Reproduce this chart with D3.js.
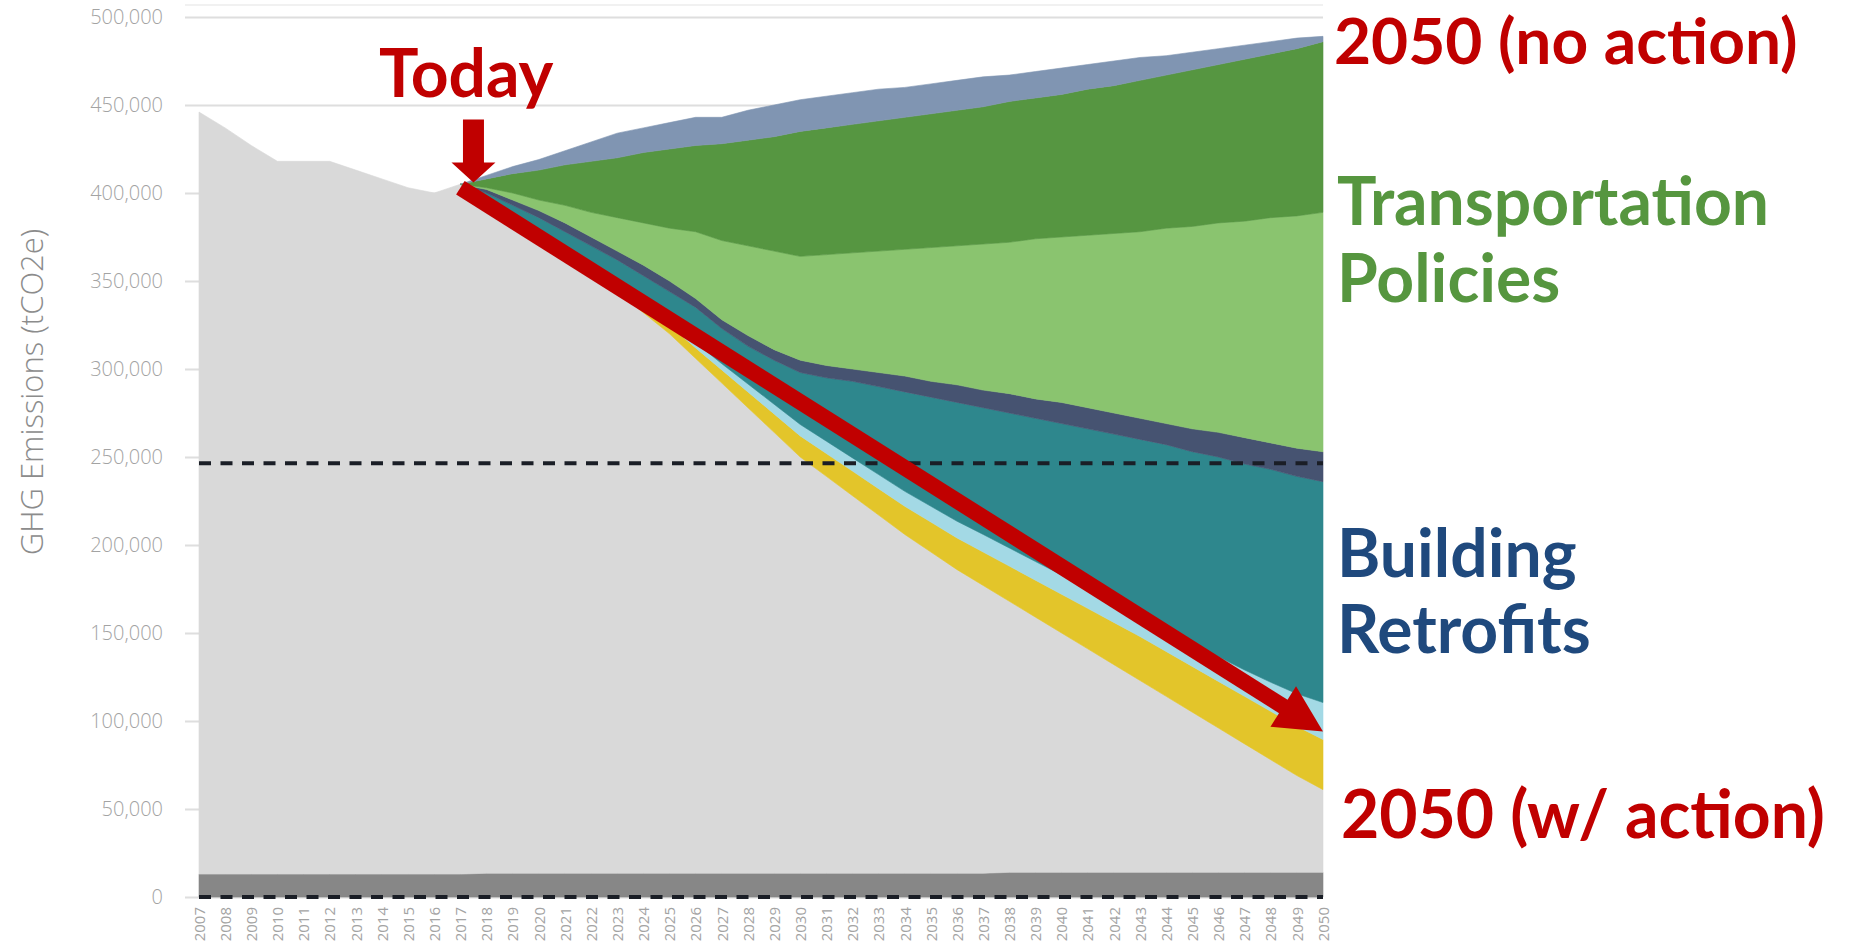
<!DOCTYPE html>
<html>
<head>
<meta charset="utf-8">
<script src="https://cdn.jsdelivr.net/npm/d3@7"></script>
<style>
  html, body { margin: 0; padding: 0; background: #fff; }
  svg { display: block; }
</style>
</head>
<body>
<div id="chart"></div>
<script>
(function() {
  var years = [2007, 2008, 2009, 2010, 2011, 2012, 2013, 2014, 2015, 2016, 2017,
    2018, 2019, 2020, 2021, 2022, 2023, 2024, 2025, 2026, 2027, 2028, 2029, 2030,
    2031, 2032, 2033, 2034, 2035, 2036, 2037, 2038, 2039, 2040, 2041, 2042, 2043,
    2044, 2045, 2046, 2047, 2048, 2049, 2050];

  // all series in thousand tCO2e, stacked from the bottom up
  var fixedBase = [13, 13, 13, 13, 13, 13, 13, 13, 13, 13, 13,
    13.5, 13.5, 13.5, 13.5, 13.5, 13.5, 13.5, 13.5, 13.5, 13.5, 13.5, 13.5, 13.5,
    13.5, 13.5, 13.5, 13.5, 13.5, 13.5, 13.5, 14, 14, 14, 14, 14, 14,
    14, 14, 14, 14, 14, 14, 14];
  var remaining = [433, 424, 414, 405, 405, 405, 400, 395, 390, 387, 392,
    382.5, 372.5, 362.5, 352.5, 341.5, 330.5, 318.5, 306.5, 292.5, 278.5, 264.5, 250.5, 236.5,
    225.5, 214.5, 203.5, 192.5, 182.5, 172.5, 163.5, 154, 145, 136, 127, 118, 109,
    100, 91, 82, 73, 64, 55, 47];
  var yellowWedge = [0, 0, 0, 0, 0, 0, 0, 0, 0, 0, 0,
    0.5, 1, 1.5, 2, 2.5, 3, 4, 5, 6, 7.5, 9, 10.5, 12,
    13, 14, 15, 16, 17, 18, 19, 20, 21, 22, 23, 24, 25,
    25.5, 26, 26.5, 27, 27.5, 28, 28.5];
  var lightBlueWedge = [0, 0, 0, 0, 0, 0, 0, 0, 0, 0, 0,
    0.3, 0.5, 0.8, 1, 1.3, 1.6, 2, 2.5, 3, 3.5, 4.5, 5.5, 6.5,
    7, 7.5, 8, 8.5, 9, 9.5, 10, 10.3, 10.6, 11, 11.3, 11.6, 12,
    12.5, 13, 14, 15, 16.5, 18.5, 21];
  var retrofits = [0, 0, 0, 0, 0, 0, 0, 0, 0, 0, 0,
    3.2, 5.5, 7.7, 9, 11.2, 13.4, 15, 16.5, 20, 20, 21.5, 25, 29.5,
    36, 43.5, 50, 56.5, 62, 67.5, 72, 76.7, 81.4, 86, 90.7, 95.4, 100,
    105, 109, 113.5, 117, 121, 123.5, 125.5];
  var slateWedge = [0, 0, 0, 0, 0, 0, 0, 0, 0, 0, 0,
    2, 3, 4, 5, 5, 5, 6, 6, 5, 5, 6, 6, 7,
    7, 7, 8, 9, 9, 10, 10, 11, 11, 12, 12, 12, 12,
    12, 13, 14, 15, 15, 16, 17];
  var transportLight = [0, 0, 0, 0, 0, 0, 0, 0, 0, 0, 0,
    1, 4, 6, 10, 14, 19, 24, 30, 38, 45, 51, 56, 59,
    63, 66, 69, 72, 76, 79, 83, 86, 91, 94, 98, 102, 106,
    111, 115, 119, 123, 128, 132, 136];
  var transportDark = [0, 0, 0, 0, 0, 0, 0, 0, 0, 0, 0,
    5, 11, 17, 23, 29, 34, 40, 45, 49, 55, 60, 65, 71,
    72, 73, 74, 75, 76, 77, 78, 80, 80, 81, 83, 84, 86,
    87, 89, 90, 92, 93, 95, 97];
  var topWedge = [0, 0, 0, 0, 0, 0, 0, 0, 0, 0, 0,
    2, 4, 6, 8, 11, 14, 14, 15, 16, 15, 17, 18, 18,
    18, 18, 18, 17, 17, 17, 17, 15, 15, 15, 14, 14, 13,
    11, 10, 9, 8, 7, 6, 3];

  var yTicks = [0, 50000, 100000, 150000, 200000, 250000, 300000, 350000, 400000, 450000, 500000];
  var targetLevel = 246500;

  var series = [
    { key: "fixedBase", values: fixedBase, color: "#878787" },
    { key: "remaining", values: remaining, color: "#d9d9d9" },
    { key: "yellowWedge", values: yellowWedge, color: "#e3c52a" },
    { key: "lightBlueWedge", values: lightBlueWedge, color: "#a3d9e5" },
    { key: "retrofits", values: retrofits, color: "#2e878d" },
    { key: "slateWedge", values: slateWedge, color: "#465371" },
    { key: "transportLight", values: transportLight, color: "#8ac46f" },
    { key: "transportDark", values: transportDark, color: "#569641" },
    { key: "topWedge", values: topWedge, color: "#8095b2" }
  ];

  var table = years.map(function(yr, i) {
    var row = { year: yr };
    series.forEach(function(s) { row[s.key] = s.values[i] * 1000; });
    return row;
  });

  var stacked = d3.stack().keys(series.map(function(s) { return s.key; }))(table);

  var svg = d3.select("#chart").append("svg")
    .attr("width", 1857).attr("height", 944);

  var x = d3.scaleLinear().domain([2007, 2050]).range([199, 1323]);
  var y = d3.scaleLinear().domain([0, 500000]).range([897, 17]);

  // faint plot border at the top
  svg.append("line")
    .attr("x1", 185).attr("x2", 1323).attr("y1", 5).attr("y2", 5)
    .attr("stroke", "#f1f1f1").attr("stroke-width", 2);

  // gridlines and y tick labels
  var gy = svg.append("g")
    .attr("transform", "translate(185,0)")
    .call(d3.axisLeft(y).tickValues(yTicks).tickSize(-(1323 - 185)).tickPadding(22).tickFormat(d3.format(",")));
  gy.select(".domain").remove();
  gy.selectAll(".tick line").attr("stroke", "#dedede").attr("stroke-width", 2);
  gy.selectAll(".tick text")
    .attr("fill", "#a3a3a3")
    .style("font-family", "'Open Sans', sans-serif")
    .style("font-weight", 300)
    .style("font-size", "20px");

  // skip the flat zero stretch of a layer, keep the point where it starts
  var thick = function(d) { return d[1] - d[0] > 0; };
  var area = d3.area()
    .defined(function(d, i, layer) { return thick(d) || (i + 1 < layer.length && thick(layer[i + 1])); })
    .x(function(d) { return x(d.data.year); })
    .y0(function(d) { return y(d[0]); })
    .y1(function(d) { return y(d[1]); });

  svg.append("g").selectAll("path")
    .data(stacked)
    .enter().append("path")
    .attr("d", function(d) { return area(d); })
    .attr("fill", function(d, i) { return series[i].color; })
    .attr("stroke", function(d, i) { return series[i].color; })
    .attr("stroke-width", 0.6);

  // x axis, labels turned on their side
  var gx = svg.append("g")
    .attr("transform", "translate(0,897)")
    .call(d3.axisBottom(x).tickValues(years).tickSize(0).tickFormat(d3.format("d")));
  gx.select(".domain").remove();
  gx.selectAll(".tick text")
    .attr("transform", "rotate(-90)")
    .attr("x", -10).attr("y", 0).attr("dy", "0.35em")
    .style("text-anchor", "end")
    .attr("fill", "#a3a3a3")
    .style("font-family", "'Open Sans', sans-serif")
    .style("font-size", "15px");

  // dashed reference lines: target and zero
  [targetLevel, 0].forEach(function(v) {
    svg.append("line")
      .attr("x1", x(2007)).attr("x2", x(2050))
      .attr("y1", y(v)).attr("y2", y(v))
      .attr("stroke", "#1a1e26").attr("stroke-width", 4)
      .attr("stroke-dasharray", "12,9.5");
  });

  // y axis title
  svg.append("text")
    .attr("transform", "translate(43,392) rotate(-90)")
    .attr("text-anchor", "middle")
    .attr("fill", "#8c8c8c")
    .style("font-family", "'Open Sans', sans-serif")
    .style("font-weight", 300)
    .style("font-size", "31px")
    .text("GHG Emissions (tCO2e)");

  // big red trend arrow from today to 2050 with action
  var red = "#c00000";
  var arrowFrom = [2017, 403000], arrowTo = [2050, 94000];
  var p0 = [x(arrowFrom[0]), y(arrowFrom[1])], p1 = [x(arrowTo[0]), y(arrowTo[1])];
  var dx = p1[0] - p0[0], dy = p1[1] - p0[1], len = Math.sqrt(dx * dx + dy * dy);
  var ux = dx / len, uy = dy / len, headLen = 47, headHalf = 24;
  var base = [p1[0] - ux * headLen, p1[1] - uy * headLen];
  svg.append("line")
    .attr("x1", p0[0]).attr("y1", p0[1])
    .attr("x2", base[0] + ux * 2).attr("y2", base[1] + uy * 2)
    .attr("stroke", red).attr("stroke-width", 16);
  svg.append("polygon")
    .attr("points", [
      p1,
      [base[0] - uy * headHalf, base[1] + ux * headHalf],
      [base[0] + uy * headHalf, base[1] - ux * headHalf]
    ].map(function(p) { return p.join(","); }).join(" "))
    .attr("fill", red);

  // "Today" marker arrow
  var todayTip = [x(2017.5), y(406000)];
  svg.append("polygon")
    .attr("points", [[-10.5, -63], [10.5, -63], [10.5, -20], [22, -20], [0, 0], [-22, -20], [-10.5, -20]]
      .map(function(p) { return (todayTip[0] + p[0]) + "," + (todayTip[1] + p[1]); }).join(" "))
    .attr("fill", red);

  var labels = [
    { text: "Today", x: 379, y: 97, size: 66, color: red },
    { text: "2050 (no action)", x: 1334, y: 64, size: 64, color: red },
    { text: "Transportation", x: 1337, y: 225, size: 66, color: "#56963f" },
    { text: "Policies", x: 1337, y: 302, size: 66, color: "#56963f" },
    { text: "Building", x: 1337, y: 577, size: 66, color: "#1f497d" },
    { text: "Retrofits", x: 1337, y: 653, size: 66, color: "#1f497d" },
    { text: "2050 (w/ action)", x: 1341, y: 838, size: 66, color: red }
  ];
  svg.append("g").selectAll("text")
    .data(labels)
    .enter().append("text")
    .attr("x", function(d) { return d.x; })
    .attr("y", function(d) { return d.y; })
    .attr("fill", function(d) { return d.color; })
    .style("font-family", "Lato, 'Open Sans', sans-serif")
    .style("font-weight", 700)
    .style("font-size", function(d) { return d.size + "px"; })
    .text(function(d) { return d.text; });
})();
</script>
</body>
</html>
